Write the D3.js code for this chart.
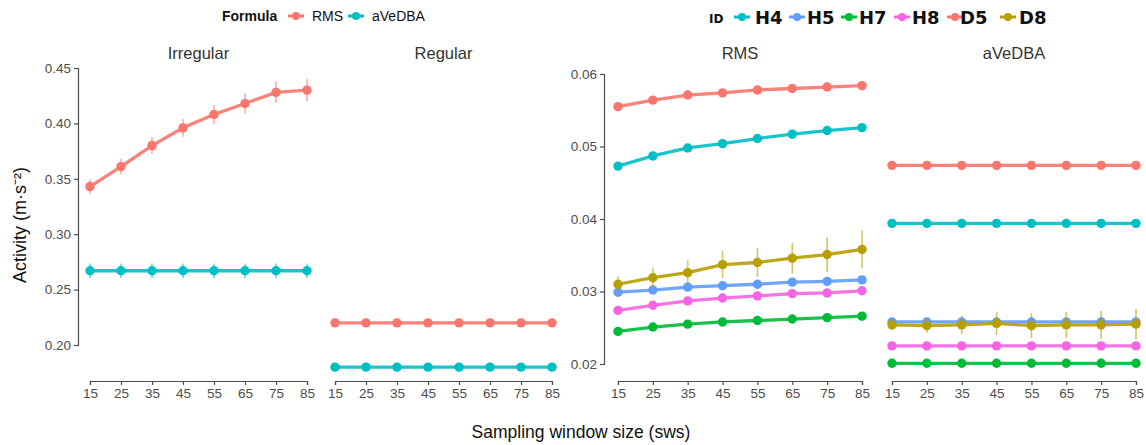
<!DOCTYPE html>
<html>
<head>
<meta charset="utf-8">
<script src="https://cdn.jsdelivr.net/npm/d3@7"></script>
<style>
  body { margin: 0; background: #fff; }
  svg text { font-family: "Liberation Sans", Arial, sans-serif; }
</style>
</head>
<body>
<svg id="chart" width="1146" height="445"></svg>
<script>
// Sampling window sizes shared by every panel
const sws = [15, 25, 35, 45, 55, 65, 75, 85];

// Left figure: activity by formula, irregular vs regular movement
const formulas = ["RMS", "aVeDBA"];
const formulaColors = ["#F8766D", "#00BFC4"];
const leftPanels = ["Irregular", "Regular"];
const irregularRMS = [0.343, 0.361, 0.380, 0.396, 0.408, 0.418, 0.428, 0.430];
const irregularRMSErr = [0.0065, 0.007, 0.0075, 0.008, 0.0085, 0.009, 0.0095, 0.010];
const irregularAve = [0.267, 0.267, 0.267, 0.267, 0.267, 0.267, 0.267, 0.267];
const irregularAveErr = [0.0065, 0.0065, 0.0065, 0.0065, 0.0065, 0.0065, 0.0065, 0.0065];
const regularRMS = [0.220, 0.220, 0.220, 0.220, 0.220, 0.220, 0.220, 0.220];
const regularRMSErr = [0.001, 0.001, 0.001, 0.001, 0.001, 0.001, 0.001, 0.001];
const regularAve = [0.180, 0.180, 0.180, 0.180, 0.180, 0.180, 0.180, 0.180];
const regularAveErr = [0.001, 0.001, 0.001, 0.001, 0.001, 0.001, 0.001, 0.001];
const leftTicks = [0.20, 0.25, 0.30, 0.35, 0.40, 0.45];

// Right figure: activity per individual, by formula
const ids = ["H4", "H5", "H7", "H8", "D5", "D8"];
const idColors = ["#00BFC4", "#619CFF", "#00BA38", "#F564E3", "#F8766D", "#B79F00"];
const rightPanels = ["RMS", "aVeDBA"];
const rmsH4 = [0.0473, 0.0487, 0.0498, 0.0504, 0.0511, 0.0517, 0.0522, 0.0526];
const rmsH5 = [0.0299, 0.0302, 0.0306, 0.0308, 0.0310, 0.0313, 0.0314, 0.0316];
const rmsH7 = [0.0245, 0.0251, 0.0255, 0.0258, 0.0260, 0.0262, 0.0264, 0.0266];
const rmsH8 = [0.0274, 0.0281, 0.0287, 0.0291, 0.0294, 0.0297, 0.0298, 0.0301];
const rmsD5 = [0.0555, 0.0564, 0.0571, 0.0574, 0.0578, 0.0580, 0.0582, 0.0584];
const rmsD8 = [0.0310, 0.0319, 0.0326, 0.0337, 0.0340, 0.0346, 0.0351, 0.0358];
const rmsErr = {
  H4: [0.0003, 0.0003, 0.0003, 0.0004, 0.0004, 0.0004, 0.0005, 0.0005],
  H5: [0.0002, 0.0002, 0.0003, 0.0003, 0.0003, 0.0003, 0.0003, 0.0003],
  H7: [0.0002, 0.0002, 0.0002, 0.0003, 0.0003, 0.0003, 0.0003, 0.0004],
  H8: [0.0002, 0.0002, 0.0002, 0.0003, 0.0003, 0.0003, 0.0003, 0.0003],
  D5: [0.0002, 0.0003, 0.0003, 0.0004, 0.0004, 0.0004, 0.0005, 0.0005],
  D8: [0.0011, 0.0014, 0.0017, 0.0019, 0.0020, 0.0021, 0.0024, 0.0026]
};
const aveH4 = [0.0394, 0.0394, 0.0394, 0.0394, 0.0394, 0.0394, 0.0394, 0.0394];
const aveH5 = [0.0258, 0.0258, 0.0258, 0.0258, 0.0258, 0.0258, 0.0258, 0.0258];
const aveH7 = [0.0201, 0.0201, 0.0201, 0.0201, 0.0201, 0.0201, 0.0201, 0.0201];
const aveH8 = [0.0225, 0.0225, 0.0225, 0.0225, 0.0225, 0.0225, 0.0225, 0.0225];
const aveD5 = [0.0474, 0.0474, 0.0474, 0.0474, 0.0474, 0.0474, 0.0474, 0.0474];
const aveD8 = [0.0254, 0.0253, 0.0254, 0.0256, 0.0253, 0.0254, 0.0254, 0.0255];
const aveErr = {
  H4: [0.0001, 0.0001, 0.0001, 0.0001, 0.0001, 0.0001, 0.0001, 0.0001],
  H5: [0.0001, 0.0001, 0.0001, 0.0001, 0.0001, 0.0001, 0.0001, 0.0002],
  H7: [0.0001, 0.0001, 0.0001, 0.0001, 0.0001, 0.0001, 0.0001, 0.0001],
  H8: [0.0001, 0.0001, 0.0001, 0.0001, 0.0001, 0.0001, 0.0001, 0.0001],
  D5: [0.0001, 0.0001, 0.0001, 0.0001, 0.0001, 0.0001, 0.0001, 0.0002],
  D8: [0.0007, 0.0010, 0.0013, 0.0016, 0.0017, 0.0018, 0.0019, 0.0021]
};
const rightTicks = [0.02, 0.03, 0.04, 0.05, 0.06];

const svg = d3.select("#chart");
const axisColor = "#4d4d4d";
const tickTextColor = "#4d4d4d";

// Build series objects for each panel
const leftSeries = [
  [
    { key: "RMS", color: formulaColors[0], values: irregularRMS, err: irregularRMSErr },
    { key: "aVeDBA", color: formulaColors[1], values: irregularAve, err: irregularAveErr }
  ],
  [
    { key: "RMS", color: formulaColors[0], values: regularRMS, err: regularRMSErr },
    { key: "aVeDBA", color: formulaColors[1], values: regularAve, err: regularAveErr }
  ]
];
const rmsValues = { H4: rmsH4, H5: rmsH5, H7: rmsH7, H8: rmsH8, D5: rmsD5, D8: rmsD8 };
const aveValues = { H4: aveH4, H5: aveH5, H7: aveH7, H8: aveH8, D5: aveD5, D8: aveD8 };
const rightSeries = [
  ids.map((id, i) => ({ key: id, color: idColors[i], values: rmsValues[id], err: rmsErr[id] })),
  ids.map((id, i) => ({ key: id, color: idColors[i], values: aveValues[id], err: aveErr[id] }))
];

// Scales
const yLeft = d3.scaleLinear().domain([0.20, 0.45]).range([345, 68]);
const yRight = d3.scaleLinear().domain([0.02, 0.06]).range([364, 74]);
const xLeft = [
  d3.scaleLinear().domain([15, 85]).range([90, 307]),
  d3.scaleLinear().domain([15, 85]).range([335, 552])
];
const xRight = [
  d3.scaleLinear().domain([15, 85]).range([618, 862]),
  d3.scaleLinear().domain([15, 85]).range([892, 1136])
];
const xAxisY = 381;

function styleAxis(g) {
  g.select(".domain").attr("stroke", axisColor).attr("stroke-width", 1.2);
  g.selectAll(".tick line").attr("stroke", axisColor).attr("stroke-width", 1.2);
  g.selectAll(".tick text")
    .attr("fill", tickTextColor)
    .style("font-size", "13.5px")
    .style("font-family", "Liberation Sans, Arial, sans-serif");
}

function drawPanel(x, y, series, title, errAlpha) {
  const g = svg.append("g");
  // strip title
  g.append("text")
    .attr("x", (x.range()[0] + x.range()[1]) / 2)
    .attr("y", 59)
    .attr("text-anchor", "middle")
    .attr("fill", "#333")
    .style("font-size", "16.5px")
    .text(title);

  // x axis
  const ax = g.append("g")
    .attr("transform", `translate(0,${xAxisY})`)
    .call(d3.axisBottom(x).tickValues(sws).tickFormat(d3.format("d")).tickSizeOuter(0).tickSize(4).tickPadding(3));
  styleAxis(ax);

  const line = d3.line().x((d, i) => x(sws[i])).y(d => y(d));
  series.forEach(s => {
    // error bars
    g.append("g").selectAll("line")
      .data(s.values)
      .join("line")
      .attr("x1", (d, i) => x(sws[i]))
      .attr("x2", (d, i) => x(sws[i]))
      .attr("y1", (d, i) => y(d - s.err[i]))
      .attr("y2", (d, i) => y(d + s.err[i]))
      .attr("stroke", s.color)
      .attr("stroke-opacity", errAlpha)
      .attr("stroke-width", 1.6);
    // connecting line
    g.append("path")
      .datum(s.values)
      .attr("d", line)
      .attr("fill", "none")
      .attr("stroke", s.color)
      .attr("stroke-opacity", 0.9)
      .attr("stroke-width", 3.3);
    // points
    g.append("g").selectAll("circle")
      .data(s.values)
      .join("circle")
      .attr("cx", (d, i) => x(sws[i]))
      .attr("cy", d => y(d))
      .attr("r", 4.7)
      .attr("fill", s.color);
  });
}

// Left figure
drawPanel(xLeft[0], yLeft, leftSeries[0], leftPanels[0], 0.6);
drawPanel(xLeft[1], yLeft, leftSeries[1], leftPanels[1], 0.6);
const ayL = svg.append("g")
  .attr("transform", "translate(78,0)")
  .call(d3.axisLeft(yLeft).tickValues(leftTicks).tickFormat(d3.format(".2f")).tickSizeOuter(0).tickSize(4).tickPadding(3));
styleAxis(ayL);

// Right figure
drawPanel(xRight[0], yRight, rightSeries[0], rightPanels[0], 0.6);
drawPanel(xRight[1], yRight, rightSeries[1], rightPanels[1], 0.6);
const ayR = svg.append("g")
  .attr("transform", "translate(604,0)")
  .call(d3.axisLeft(yRight).tickValues(rightTicks).tickFormat(d3.format(".2f")).tickSizeOuter(0).tickSize(4).tickPadding(3));
styleAxis(ayR);

// Axis titles
svg.append("text")
  .attr("transform", "translate(26,225) rotate(-90)")
  .attr("text-anchor", "middle")
  .attr("fill", "#111")
  .style("font-size", "18px")
  .text("Activity (m·s⁻²)");
svg.append("text")
  .attr("x", 581)
  .attr("y", 438)
  .attr("text-anchor", "middle")
  .attr("fill", "#111")
  .style("font-size", "17.5px")
  .text("Sampling window size (sws)");

// Legend keys: a short line with a dot
function legendKey(cx, cy, color) {
  svg.append("line")
    .attr("x1", cx - 8).attr("x2", cx + 8)
    .attr("y1", cy).attr("y2", cy)
    .attr("stroke", color).attr("stroke-width", 3);
  svg.append("circle").attr("cx", cx).attr("cy", cy).attr("r", 4).attr("fill", color);
}

// Formula legend
svg.append("text")
  .attr("x", 222).attr("y", 21)
  .style("font-size", "14px").style("font-weight", "bold")
  .attr("fill", "#111")
  .text("Formula");
const formulaKeyX = [296, 356];
const formulaTextX = [312, 372];
formulas.forEach((f, i) => {
  legendKey(formulaKeyX[i], 16, formulaColors[i]);
  svg.append("text")
    .attr("x", formulaTextX[i]).attr("y", 21)
    .style("font-size", "14px")
    .attr("fill", "#111")
    .text(f);
});

// ID legend
svg.append("text")
  .attr("x", 709).attr("y", 23)
  .style("font-size", "12px").style("font-weight", "bold")
  .style("font-family", "DejaVu Sans, sans-serif")
  .attr("fill", "#111")
  .text("ID");
const idKeyX = [742, 797, 849, 902, 955, 1008];
const idTextX = [755, 807, 859, 912, 960, 1019];
ids.forEach((id, i) => {
  legendKey(idKeyX[i], 17, idColors[i]);
  svg.append("text")
    .attr("x", idTextX[i]).attr("y", 24)
    .style("font-size", "18px").style("font-weight", "bold")
    .style("font-family", "DejaVu Sans, sans-serif")
    .attr("fill", "#111")
    .text(id);
});
</script>
</body>
</html>
